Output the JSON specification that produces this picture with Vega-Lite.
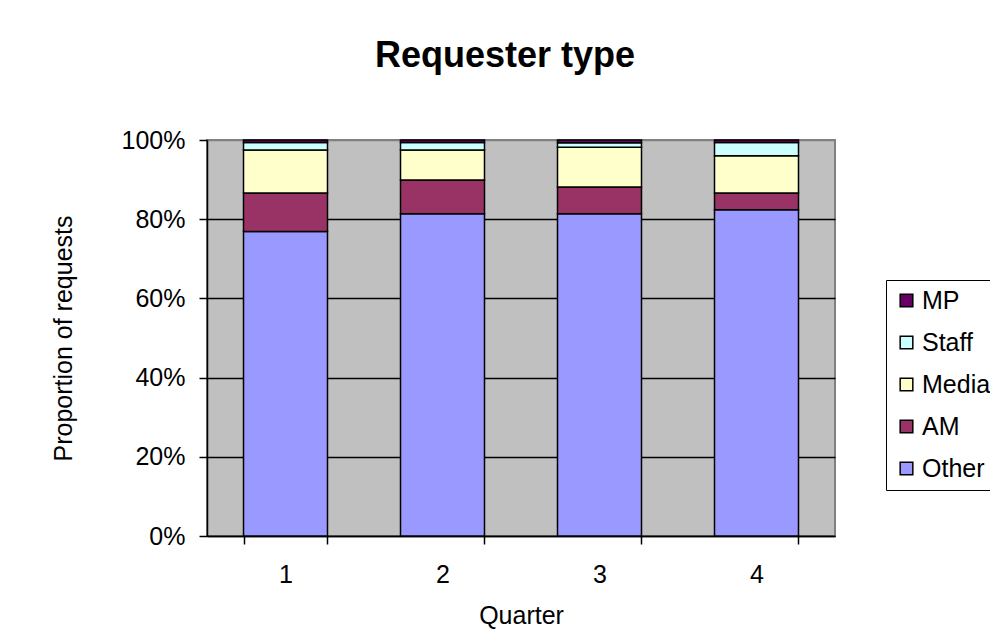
{
  "$schema": "https://vega.github.io/schema/vega-lite/v6.json",
  "autosize": {"type": "none"},
  "width": 628,
  "height": 396,
  "padding": {"left": 207, "top": 140, "right": 155, "bottom": 99},
  "background": "white",
  "title": {
    "text": "Requester type",
    "font": "Liberation Sans",
    "fontSize": 36,
    "fontWeight": "bold",
    "color": "black",
    "anchor": "middle",
    "frame": "group",
    "baseline": "alphabetic",
    "offset": 25,
    "dx": -16
  },
  "data": {
    "values": [
      {"quarter": "1", "type": "Other", "rank": 1, "value": 76.9},
      {"quarter": "1", "type": "AM", "rank": 2, "value": 9.7},
      {"quarter": "1", "type": "Media", "rank": 3, "value": 10.9},
      {"quarter": "1", "type": "Staff", "rank": 4, "value": 1.9},
      {"quarter": "1", "type": "MP", "rank": 5, "value": 0.6},
      {"quarter": "2", "type": "Other", "rank": 1, "value": 81.4},
      {"quarter": "2", "type": "AM", "rank": 2, "value": 8.5},
      {"quarter": "2", "type": "Media", "rank": 3, "value": 7.6},
      {"quarter": "2", "type": "Staff", "rank": 4, "value": 1.9},
      {"quarter": "2", "type": "MP", "rank": 5, "value": 0.6},
      {"quarter": "3", "type": "Other", "rank": 1, "value": 81.4},
      {"quarter": "3", "type": "AM", "rank": 2, "value": 6.7},
      {"quarter": "3", "type": "Media", "rank": 3, "value": 10.1},
      {"quarter": "3", "type": "Staff", "rank": 4, "value": 1.1},
      {"quarter": "3", "type": "MP", "rank": 5, "value": 0.7},
      {"quarter": "4", "type": "Other", "rank": 1, "value": 82.4},
      {"quarter": "4", "type": "AM", "rank": 2, "value": 4.2},
      {"quarter": "4", "type": "Media", "rank": 3, "value": 9.4},
      {"quarter": "4", "type": "Staff", "rank": 4, "value": 3.4},
      {"quarter": "4", "type": "MP", "rank": 5, "value": 0.6}
    ]
  },
  "mark": {"type": "bar", "stroke": "black", "strokeWidth": 1.5},
  "encoding": {
    "x": {
      "field": "quarter",
      "type": "ordinal",
      "scale": {"paddingInner": 0.465, "paddingOuter": 0.2325},
      "axis": {
        "title": "Quarter",
        "labelAngle": 0,
        "tickBand": "extent",
        "tickSize": 8,
        "tickColor": "black",
        "tickWidth": 1.5,
        "domainColor": "black",
        "domainWidth": 1.5,
        "labelFont": "Liberation Sans",
        "labelFontSize": 25,
        "labelColor": "black",
        "labelPadding": 18,
        "titleFont": "Liberation Sans",
        "titleFontSize": 25,
        "titleFontWeight": "normal",
        "titleColor": "black",
        "titleBaseline": "alphabetic",
        "titleY": 87
      }
    },
    "y": {
      "field": "value",
      "type": "quantitative",
      "stack": "normalize",
      "scale": {"domain": [0, 1]},
      "axis": {
        "title": "Proportion of requests",
        "format": ".0%",
        "values": [0, 0.2, 0.4, 0.6, 0.8, 1],
        "grid": true,
        "gridColor": {"condition": {"test": "datum.value >= 1", "value": "#808080"}, "value": "black"},
        "gridWidth": 1.5,
        "tickSize": 8,
        "tickColor": "black",
        "tickWidth": 1.5,
        "domainColor": "black",
        "domainWidth": 1.5,
        "labelFont": "Liberation Sans",
        "labelFontSize": 25,
        "labelColor": "black",
        "labelPadding": 14,
        "titleFont": "Liberation Sans",
        "titleFontSize": 25,
        "titleFontWeight": "normal",
        "titleColor": "black",
        "titleAngle": -90,
        "titleAlign": "center",
        "titleBaseline": "middle",
        "titleX": -144,
        "titleY": 198
      }
    },
    "color": {
      "field": "type",
      "type": "nominal",
      "scale": {
        "domain": ["MP", "Staff", "Media", "AM", "Other"],
        "range": ["#660066", "#CCFFFF", "#FFFFCC", "#993366", "#9999FF"]
      },
      "legend": {
        "title": null,
        "orient": "none",
        "legendX": 679,
        "legendY": 140,
        "fillColor": "white",
        "strokeColor": "black",
        "padding": 8,
        "rowPadding": 16,
        "symbolType": "square",
        "symbolSize": 160,
        "symbolStrokeColor": "black",
        "symbolStrokeWidth": 1.5,
        "labelFont": "Liberation Sans",
        "labelFontSize": 25,
        "labelColor": "black",
        "labelOffset": 3,
        "labelLimit": 200
      }
    },
    "order": {"field": "rank", "type": "quantitative"}
  },
  "config": {
    "view": {"fill": "#C0C0C0", "stroke": "#808080", "strokeWidth": 2}
  }
}
